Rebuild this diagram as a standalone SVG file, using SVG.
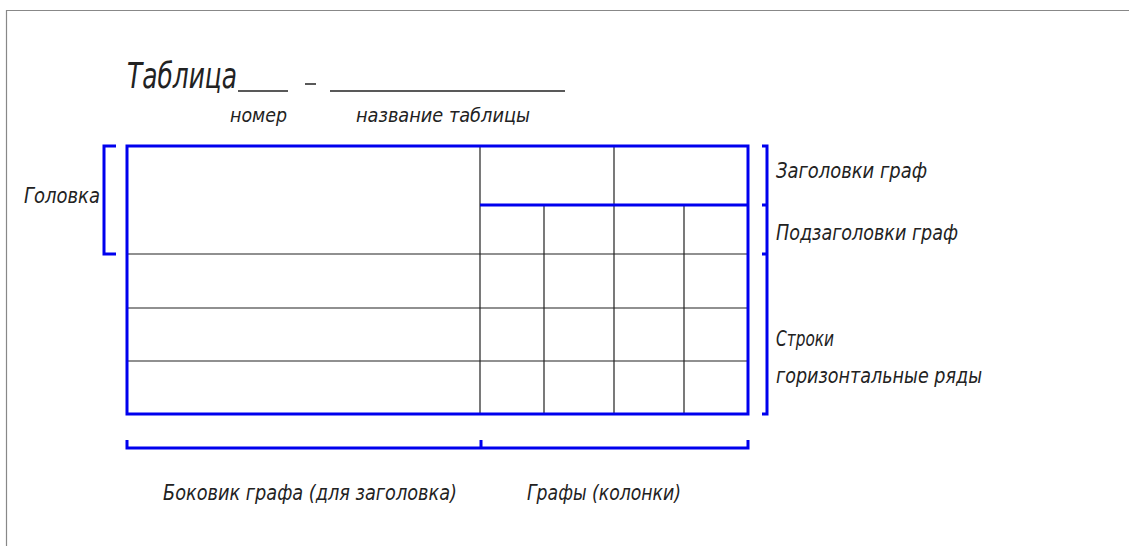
<svg xmlns="http://www.w3.org/2000/svg" width="1129" height="546" viewBox="0 0 1129 546">
<style>
.t{font-family:"DejaVu Sans Condensed","Liberation Sans",sans-serif;font-style:italic;fill:#222;font-size:21px}
.big{font-size:35px}
.sm{font-size:19px}
.thin{stroke:#222;stroke-width:1.2;fill:none}
.blue{stroke:#0000ee;stroke-width:3;fill:none}
</style>
<rect width="1129" height="546" fill="#fff"/>
<path d="M1129 10.5H6.5V546" stroke="#888" stroke-width="1.2" fill="none"/>
<g id="title">
<text class="t big" x="127" y="88" textLength="110" lengthAdjust="spacingAndGlyphs">Таблица</text>
<line x1="238" y1="91" x2="288" y2="91" stroke="#222" stroke-width="1.5"/>
<line x1="305" y1="84" x2="316" y2="84" stroke="#222" stroke-width="1.5"/>
<line x1="330" y1="91" x2="565" y2="91" stroke="#222" stroke-width="1.5"/>
<text class="t sm" x="230" y="122" textLength="57" lengthAdjust="spacingAndGlyphs">номер</text>
<text class="t sm" x="356" y="122" textLength="174" lengthAdjust="spacingAndGlyphs">название таблицы</text>
</g>
<g id="table">
<path class="thin" d="M127 254H748M127 308H748M127 361H748M480 146V414M614 146V414M544 205V414M684 205V414"/>
<line class="blue" x1="480" y1="205" x2="748" y2="205"/>
<rect class="blue" x="127" y="146" width="621" height="268"/>
</g>
<g id="brackets">
<path class="blue" d="M116 146H104V254H116"/>
<path class="blue" d="M762 146H767V414H762M767 205H762M767 254H762"/>
<path class="blue" d="M127 440V448H748V440M481 440V448"/>
</g>
<g id="labels">
<text class="t" x="24" y="203" textLength="76" lengthAdjust="spacingAndGlyphs">Головка</text>
<text class="t" x="776" y="178" textLength="151" lengthAdjust="spacingAndGlyphs">Заголовки граф</text>
<text class="t" x="776" y="240" textLength="182" lengthAdjust="spacingAndGlyphs">Подзаголовки граф</text>
<text class="t" x="776" y="346" textLength="58" lengthAdjust="spacingAndGlyphs">Строки</text>
<text class="t" x="776" y="383" textLength="206" lengthAdjust="spacingAndGlyphs">горизонтальные ряды</text>
<text class="t" x="163" y="500" textLength="294" lengthAdjust="spacingAndGlyphs">Боковик графа (для заголовка)</text>
<text class="t" x="527" y="500" textLength="154" lengthAdjust="spacingAndGlyphs">Графы (колонки)</text>
</g>
</svg>
